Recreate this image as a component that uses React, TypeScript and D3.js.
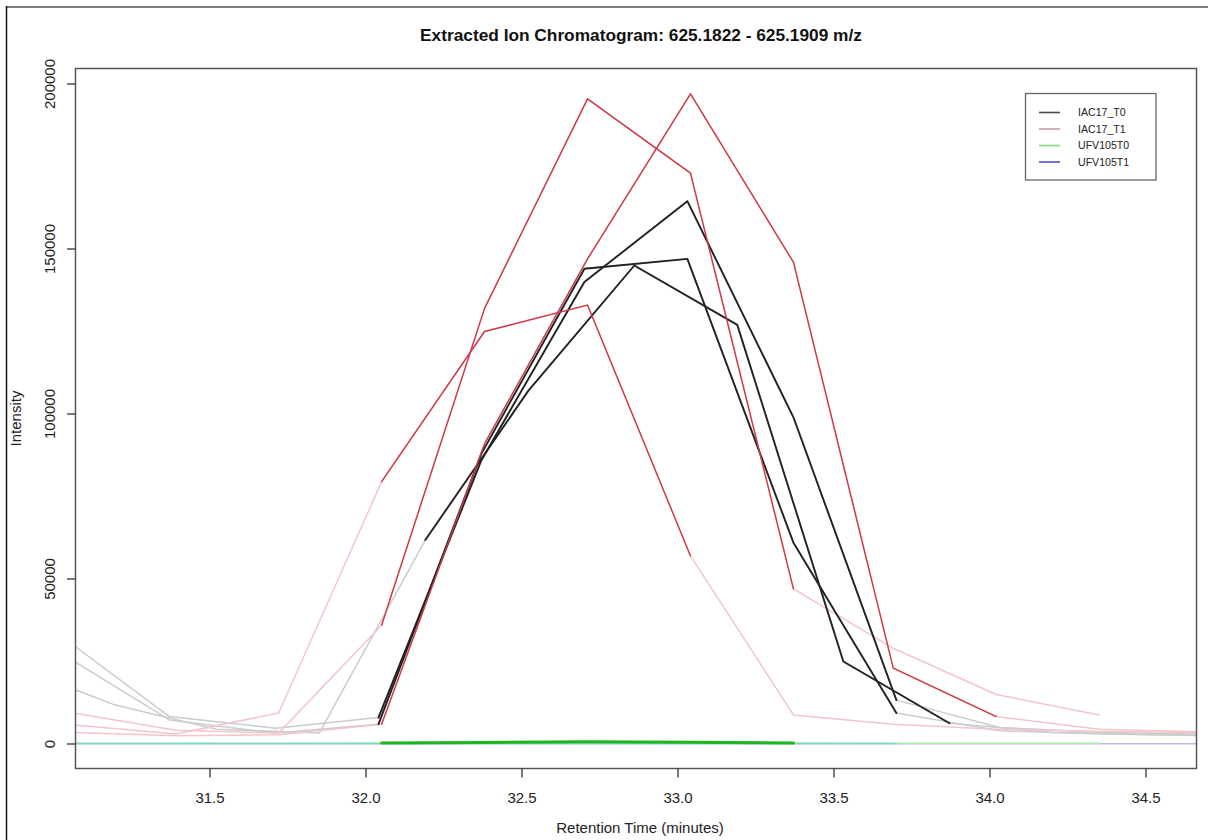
import React from "react";
import * as d3 from "d3";

// ---- chromatogram data: retention time (min) and intensity per injection ----
// IAC17_T1 injections (shared scan times)
const rtT1 = [31.06, 31.39, 31.72, 32.05, 32.38, 32.71, 33.04, 33.37, 33.69, 34.02, 34.35, 34.68];
const iacT1Rep1 = [9400, 4200, 3300, 36000, 132000, 195500, 173000, 47000, 29000, 15000, 8800];
const iacT1Rep2 = [3500, 2500, 2800, 6000, 91000, 147000, 197000, 146000, 23000, 8300, 4500, 3700];
const iacT1Rep3 = [5800, 3000, 9400, 79500, 125000, 133000, 57000, 8800, 6000, 4500, 3800, 3500];

// IAC17_T0 injections
const rtT0ab = [31.04, 31.37, 31.71, 32.04, 32.37, 32.7, 33.03, 33.37, 33.7, 34.03, 34.37, 34.7];
const iacT0Rep1 = [31500, 8300, 4800, 8000, 86000, 140000, 164500, 99000, 13300, 5000, 3500, 3000];
const iacT0Rep2 = [26500, 7300, 3300, 6000, 88000, 144000, 147000, 61000, 9400, 4000, 3000, 2500];
const rtT0c = [30.86, 31.19, 31.52, 31.85, 32.19, 32.52, 32.86, 33.19, 33.53, 33.87, 34.2, 34.53, 34.87];
const iacT0Rep3 = [24000, 12000, 4500, 3300, 61800, 107000, 145000, 127000, 25000, 6300, 3500, 2800, 2500];

// UFV105T0 injection
const rtU0 = [31.06, 31.39, 31.72, 32.05, 32.38, 32.71, 33.04, 33.37, 33.69, 34.02, 34.35];
const ufvT0Rep1 = [250, 250, 250, 300, 450, 650, 550, 300, 250, 250, 250];

// UFV105T1 injections
const rtU1a = [31.04, 31.37, 31.71, 32.04, 32.37, 32.7, 33.03, 33.37, 33.7];
const ufvT1Rep1 = [150, 150, 150, 150, 150, 150, 150, 150, 150];
const rtU1b = [31.05, 31.38, 31.71, 32.04, 32.37, 32.7, 33.03, 33.36, 33.69, 34.02, 34.35, 34.68];
const ufvT1Rep2 = [100, 100, 100, 100, 100, 100, 100, 100, 100, 100, 100, 100];

// axis ticks
const xTicks = [31.5, 32.0, 32.5, 33.0, 33.5, 34.0, 34.5];
const yTicks = [0, 50000, 100000, 150000, 200000];

const legendNames = ["IAC17_T0", "IAC17_T1", "UFV105T0", "UFV105T1"];
const legendColors = ["#4a4a4a", "#c99aaa", "#80de80", "#5050cc"];

const title = "Extracted Ion Chromatogram: 625.1822 - 625.1909 m/z";
const xTitle = "Retention Time (minutes)";
const yTitle = "Intensity";

type Trace = {
  rt: number[];
  intensity: number[];
  peak: [number, number] | null;
  solid: string;
  faded: string;
  solidWidth: number;
};

const GRAY_FADE = "#c9cdcd";
const PINK_FADE = "#f3c5cb";
const BLACK = "#232323";
const RED = "#cf3848";

// faded layer is drawn in this order, solid peaks on top
const traces: Trace[] = [
  { rt: rtU1b, intensity: ufvT1Rep2, peak: null, solid: "#5050cc", faded: "#b9b9ea", solidWidth: 1.6 },
  { rt: rtU0, intensity: ufvT0Rep1, peak: [32.05, 33.37], solid: "#1fb51f", faded: "#ade9ad", solidWidth: 3 },
  { rt: rtU1a, intensity: ufvT1Rep1, peak: null, solid: "#5050cc", faded: "#7fd8c4", solidWidth: 1.6 },
  { rt: rtT0ab, intensity: iacT0Rep1, peak: [32.04, 33.7], solid: BLACK, faded: GRAY_FADE, solidWidth: 1.9 },
  { rt: rtT0ab, intensity: iacT0Rep2, peak: [32.04, 33.7], solid: BLACK, faded: GRAY_FADE, solidWidth: 1.9 },
  { rt: rtT0c, intensity: iacT0Rep3, peak: [32.19, 33.87], solid: BLACK, faded: GRAY_FADE, solidWidth: 1.9 },
  { rt: rtT1, intensity: iacT1Rep1, peak: [32.05, 33.37], solid: RED, faded: PINK_FADE, solidWidth: 1.4 },
  { rt: rtT1, intensity: iacT1Rep2, peak: [32.05, 34.02], solid: RED, faded: PINK_FADE, solidWidth: 1.4 },
  { rt: rtT1, intensity: iacT1Rep3, peak: [32.05, 33.04], solid: RED, faded: PINK_FADE, solidWidth: 1.4 },
];

const W = 1208;
const H = 840;
const plot = { left: 75.5, right: 1196.5, top: 68.5, bottom: 768.5 };
const FONT = "'Liberation Sans', Arial, Helvetica, sans-serif";

export default function App() {
  const x = d3.scaleLinear().domain([31.0689, 34.6619]).range([plot.left, plot.right]);
  const y = d3.scaleLinear().domain([-7424, 204697]).range([plot.bottom, plot.top]);

  const line = d3
    .line<[number, number]>()
    .x((d) => x(d[0]))
    .y((d) => y(d[1]));

  const pts = (t: Trace) =>
    t.intensity.map((v, i) => [t.rt[i], v] as [number, number]);

  const peakPts = (t: Trace) =>
    t.peak ? pts(t).filter((p) => p[0] >= t.peak![0] - 1e-6 && p[0] <= t.peak![1] + 1e-6) : [];

  const solidOrder = [3, 4, 5, 6, 7, 8, 1];

  return (
    <svg width={W} height={H} style={{ display: "block", position: "absolute", left: 0, top: 0 }} fontFamily={FONT}>
      <rect x={0} y={0} width={W} height={H} fill="#ffffff" />
      {/* outer frame */}
      <line x1={6} y1={7} x2={W} y2={7} stroke="#7a7a7a" strokeWidth={2} />
      <line x1={6.5} y1={6} x2={6.5} y2={H} stroke="#111" strokeWidth={1.5} />

      <defs>
        <clipPath id="plotClip">
          <rect x={plot.left} y={plot.top} width={plot.right - plot.left} height={plot.bottom - plot.top} />
        </clipPath>
      </defs>

      <text x={(plot.left + plot.right) / 2 + 5} y={41} textAnchor="middle" fontSize={17.3} fontWeight="bold" fill="#111">
        {title}
      </text>

      <g clipPath="url(#plotClip)" fill="none" strokeLinejoin="round" strokeLinecap="round">
        {traces.map((t, i) => (
          <path key={"f" + i} d={line(pts(t)) || ""} stroke={t.faded} strokeWidth={1.5} />
        ))}
        {solidOrder.map((i) => {
          const t = traces[i];
          const p = peakPts(t);
          return p.length > 1 ? (
            <path key={"s" + i} d={line(p) || ""} stroke={t.solid} strokeWidth={t.solidWidth} />
          ) : null;
        })}
      </g>

      {/* plot box */}
      <rect
        x={plot.left}
        y={plot.top}
        width={plot.right - plot.left}
        height={plot.bottom - plot.top}
        fill="none"
        stroke="#555"
        strokeWidth={1.5}
      />

      {/* y axis */}
      {yTicks.map((v) => (
        <g key={"y" + v}>
          <line x1={plot.left - 8.5} x2={plot.left} y1={y(v)} y2={y(v)} stroke="#333" strokeWidth={1.3} />
          <text
            transform={`translate(54.5,${y(v)}) rotate(-90)`}
            textAnchor="middle"
            fontSize={15}
            fill="#222"
          >
            {String(v)}
          </text>
        </g>
      ))}

      {/* x axis */}
      {xTicks.map((t) => (
        <g key={"x" + t}>
          <line x1={x(t)} x2={x(t)} y1={plot.bottom} y2={plot.bottom + 9} stroke="#333" strokeWidth={1.3} />
          <text x={x(t)} y={803} textAnchor="middle" fontSize={15} fill="#222">
            {t.toFixed(1)}
          </text>
        </g>
      ))}

      <text x={(plot.left + plot.right) / 2 + 4} y={833} textAnchor="middle" fontSize={15} fill="#222">
        {xTitle}
      </text>
      <text transform={`translate(20.5,${(plot.top + plot.bottom) / 2}) rotate(-90)`} textAnchor="middle" fontSize={15} fill="#222">
        {yTitle}
      </text>

      {/* legend */}
      <rect x={1025.5} y={93.5} width={130.5} height={86.5} fill="#fff" stroke="#666" strokeWidth={1.3} />
      {legendNames.map((n, i) => {
        const ly = 112.5 + i * 16.5;
        return (
          <g key={n}>
            <line x1={1039} x2={1060} y1={ly} y2={ly} stroke={legendColors[i]} strokeWidth={1.6} />
            <text x={1078} y={ly + 3.8} fontSize={10.6} fill="#222">
              {n}
            </text>
          </g>
        );
      })}
    </svg>
  );
}
